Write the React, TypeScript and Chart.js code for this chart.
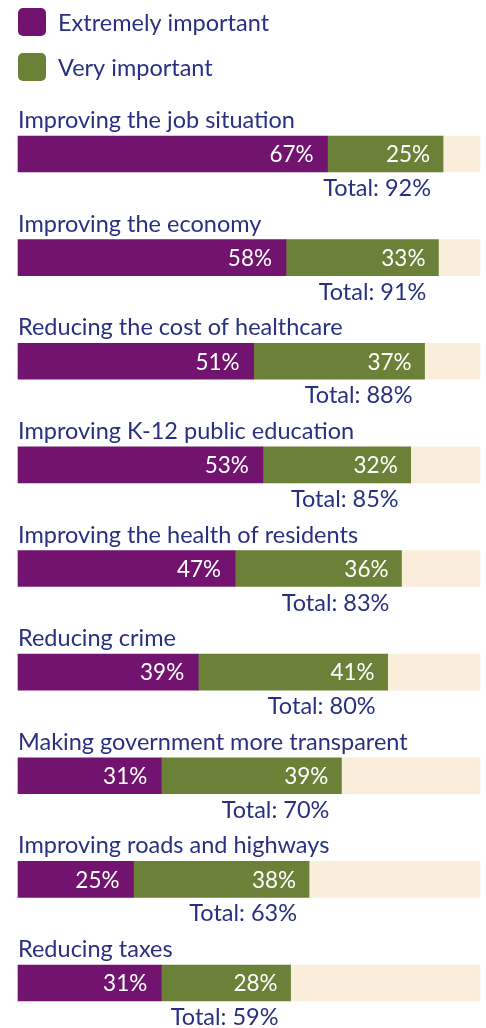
import React, { useEffect, useRef } from "react";
import { Chart, registerables } from "chart.js";

Chart.register(...registerables);

const categories = [
  "Improving the job situation",
  "Improving the economy",
  "Reducing the cost of healthcare",
  "Improving K-12 public education",
  "Improving the health of residents",
  "Reducing crime",
  "Making government more transparent",
  "Improving roads and highways",
  "Reducing taxes",
];
const extremelyImportant = [67, 58, 51, 53, 47, 39, 31, 25, 31];
const veryImportant = [25, 33, 37, 32, 36, 41, 39, 38, 28];
const totals = [92, 91, 88, 85, 83, 80, 70, 63, 59];
const seriesNames = ["Extremely important", "Very important"];

const PURPLE = "#72146f";
const GREEN = "#6b8137";
const CREAM = "#faeedb";
const NAVY = "#283180";
const FONT = "Lato";

const labelPlugin = {
  id: "labels",
  afterDatasetsDraw(chart: any) {
    const ctx = chart.ctx;
    const area = chart.chartArea;
    const m0 = chart.getDatasetMeta(0);
    const m1 = chart.getDatasetMeta(1);
    ctx.save();
    // legend
    const colors = [PURPLE, GREEN];
    seriesNames.forEach((name, i) => {
      const y = 8 + i * 45;
      ctx.fillStyle = colors[i];
      ctx.beginPath();
      (ctx as any).roundRect(18, y, 28, 28, 5);
      ctx.fill();
      ctx.fillStyle = NAVY;
      ctx.font = `23.5px ${FONT}`;
      ctx.textAlign = "left";
      ctx.textBaseline = "middle";
      ctx.fillText(name, 58, y + 15);
    });
    categories.forEach((cat, i) => {
      const e0 = m0.data[i] as any;
      const e1 = m1.data[i] as any;
      const h = e0.height;
      ctx.fillStyle = NAVY;
      ctx.font = `23.5px ${FONT}`;
      ctx.textAlign = "left";
      ctx.textBaseline = "alphabetic";
      ctx.fillText(cat, area.left, e0.y - h / 2 - 8);
      ctx.fillStyle = "#ffffff";
      ctx.font = `22.5px ${FONT}`;
      ctx.textAlign = "right";
      ctx.textBaseline = "middle";
      ctx.fillText(extremelyImportant[i] + "%", e0.x - 14, e0.y + 1);
      ctx.fillText(veryImportant[i] + "%", e1.x - 13, e1.y + 1);
      ctx.fillStyle = NAVY;
      ctx.font = `23.5px ${FONT}`;
      ctx.textBaseline = "alphabetic";
      ctx.fillText("Total: " + totals[i] + "%", e1.x - 12, e0.y + h / 2 + 24);
    });
    ctx.restore();
  },
};

export default function App() {
  const ref = useRef<HTMLCanvasElement | null>(null);
  useEffect(() => {
    if (!ref.current) return;
    const chart = new Chart(ref.current, {
      type: "bar",
      data: {
        labels: categories,
        datasets: [
          { label: seriesNames[0], data: extremelyImportant, backgroundColor: PURPLE, clip: false as any },
          { label: seriesNames[1], data: veryImportant, backgroundColor: GREEN, clip: false as any },
          { label: "rest", data: totals.map((t) => 100 - t), backgroundColor: CREAM, clip: false as any },
        ],
      },
      options: {
        indexAxis: "y",
        animation: false,
        responsive: true,
        maintainAspectRatio: false,
        layout: { padding: { left: 18, right: 6, top: 154, bottom: 45 } },
        datasets: { bar: { barThickness: 36, borderWidth: 0 } },
        scales: {
          x: { stacked: true, min: 0, max: 100, display: false },
          y: { stacked: true, display: false, offset: false },
        },
        plugins: { legend: { display: false }, tooltip: { enabled: false } },
      },
      plugins: [labelPlugin],
    });
    return () => chart.destroy();
  }, []);
  return (
    <div style={{ position: "absolute", left: 0, top: 0, width: 486, height: 1028, background: "#fff" }}>
      <canvas ref={ref} />
    </div>
  );
}
